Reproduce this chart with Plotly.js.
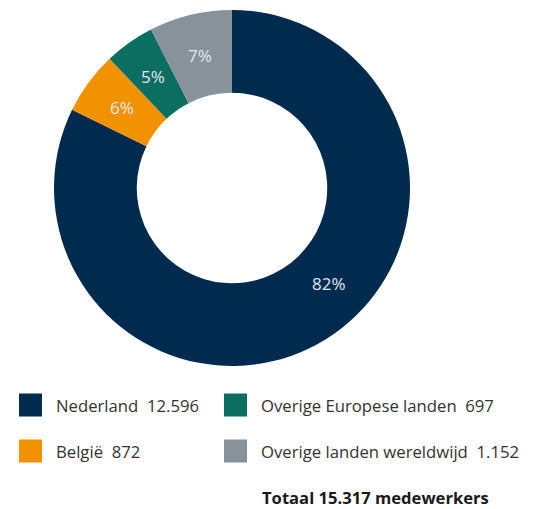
<!DOCTYPE html>
<html>
<head>
<meta charset="utf-8">
<script src="https://cdn.plot.ly/plotly-3.0.1.min.js"></script>
<style>html,body{margin:0;padding:0;background:#fff;}#chart{width:544px;height:509px;}</style>
</head>
<body>
<div id="chart"></div>
<script>
const labels = ["Nederland", "België", "Overige Europese landen", "Overige landen wereldwijd"];
const values = [12596, 872, 697, 1152];
const pctLabels = ["82%", "6%", "5%", "7%"];
const colors = ["#002B4F", "#F39200", "#0A6E61", "#87929A"];
const totalLabel = "Totaal";
const totalUnit = "medewerkers";

function fmt(n) {
  return String(n).replace(/\B(?=(\d{3})+(?!\d))/g, ".");
}
const total = values.reduce((a, b) => a + b, 0);

const W = 544, H = 509;
const cx = 232, cy = 188, R = 178, HOLE = 0.535;
const FONT = "Open Sans, Noto Sans, sans-serif";
const TXT = "#333333";
const FS = 16.7;
const mainLabelShiftDeg = -13.4; // the largest slice's label sits off its mid-angle in the original

const trace = {
  type: "pie",
  labels: labels,
  values: values,
  textinfo: "none",
  hole: HOLE,
  sort: false,
  direction: "clockwise",
  rotation: 0,
  marker: {colors: colors, line: {width: 0}},
  domain: {x: [(cx - R) / W, (cx + R) / W], y: [1 - (cy + R) / H, 1 - (cy - R) / H]},
  hoverinfo: "none"
};

const shapes = [], annotations = [];

// percentage labels at the mid-angle of each slice, mid-ring radius
const rMid = R * (1 + HOLE) / 2;
let cum = 0;
values.forEach((v, i) => {
  let midFrac = (cum + v / 2) / total;
  cum += v;
  let ang = midFrac * 2 * Math.PI + (i === 0 ? mainLabelShiftDeg * Math.PI / 180 : 0);
  const px = cx + rMid * Math.sin(ang);
  const py = cy - rMid * Math.cos(ang);
  annotations.push({xref: "paper", yref: "paper", x: px / W, y: 1 - py / H,
    xanchor: "center", yanchor: "middle", showarrow: false,
    text: pctLabels[i], font: {family: FONT, size: 17, color: "#E4E8EC"}});
});

// legend: 2 columns x 2 rows
const colX = [19, 224];
const rowY = [405, 451];
const sq = 23;
const pos = [[0, 0], [0, 1], [1, 0], [1, 1]];
labels.forEach((lab, i) => {
  const c = pos[i][0], r = pos[i][1];
  const x0 = colX[c], y0 = rowY[r] - sq / 2;
  shapes.push({type: "rect", xref: "paper", yref: "paper",
    x0: x0 / W, x1: (x0 + sq) / W, y0: 1 - (y0 + sq) / H, y1: 1 - y0 / H,
    fillcolor: colors[i], line: {width: 0}});
  annotations.push({xref: "paper", yref: "paper", x: (x0 + 35) / W, y: 1 - rowY[r] / H,
    xanchor: "left", yanchor: "middle", showarrow: false,
    text: lab + "&nbsp;&nbsp;" + fmt(values[i]),
    font: {family: FONT, size: FS, color: TXT}});
});
annotations.push({xref: "paper", yref: "paper", x: 260 / W, y: 1 - 497 / H,
  xanchor: "left", yanchor: "middle", showarrow: false,
  text: "<b>" + totalLabel + " " + fmt(total) + " " + totalUnit + "</b>",
  font: {family: FONT, size: 16.6, color: "#1a1a1a"}});

const layout = {
  width: W, height: H,
  margin: {l: 0, r: 0, t: 0, b: 0},
  paper_bgcolor: "#ffffff",
  showlegend: false,
  shapes: shapes,
  annotations: annotations
};
Plotly.newPlot("chart", [trace], layout, {displayModeBar: false, staticPlot: true});
</script>
</body>
</html>
